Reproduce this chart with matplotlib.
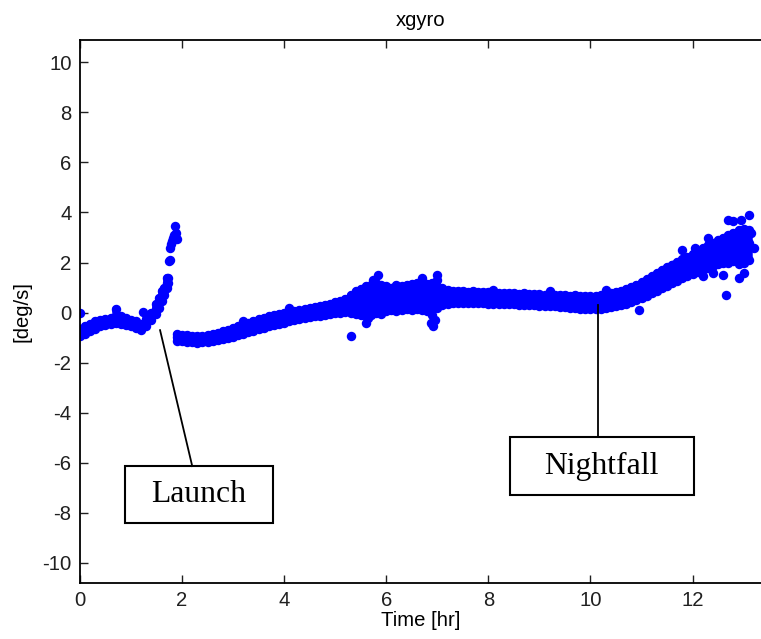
import matplotlib
matplotlib.use("Agg")
import matplotlib.pyplot as plt
from matplotlib.patches import Rectangle

plt.rcParams['font.family'] = ['Liberation Sans', 'DejaVu Sans']
plt.rcParams['axes.unicode_minus'] = False

# launch segment: time [hr], lower / middle / upper edge of the dot band [deg/s]
launch_t = [0.0, 0.1, 0.2, 0.3, 0.4, 0.5, 0.6, 0.7, 0.8, 0.9, 1.0, 1.1, 1.2,
            1.3, 1.4, 1.5, 1.55, 1.6, 1.65, 1.7]
launch_lo = [-0.95, -0.85, -0.75, -0.65, -0.55, -0.5, -0.45, -0.4, -0.45, -0.5,
             -0.55, -0.6, -0.7, -0.55, -0.3, -0.05, 0.2, 0.45, 0.7, 1.0]
launch_mid = [-0.8, -0.7, -0.6, -0.5, -0.42, -0.35, -0.32, -0.25, -0.3, -0.35,
              -0.4, -0.45, -0.6, -0.4, -0.15, 0.15, 0.4, 0.65, 0.85, 1.2]
launch_hi = [-0.65, -0.55, -0.45, -0.35, -0.3, -0.25, -0.2, 0.15, -0.15, -0.2,
             -0.3, -0.35, -0.45, -0.25, 0.0, 0.35, 0.6, 0.85, 1.0, 1.4]

# spike just before launch
spike_t = [0.0, 1.23, 1.72, 1.73, 1.74, 1.77, 1.76, 1.78, 1.8, 1.82, 1.84, 1.86, 1.88, 1.9]
spike_y = [0.0, 0.02, 1.4, 1.2, 2.05, 2.1, 2.6, 2.75, 2.85, 3.0, 3.1, 3.45, 3.2, 2.95]

# flight segment
flight_t = [1.9, 2.0, 2.1, 2.2, 2.3, 2.4, 2.5, 2.6, 2.7, 2.8, 2.9, 3.0, 3.1, 3.2,
            3.3, 3.4, 3.5, 3.6, 3.7, 3.8, 3.9, 4.0, 4.1, 4.2, 4.3, 4.4, 4.5, 4.6,
            4.7, 4.8, 4.9, 5.0, 5.1, 5.2, 5.3, 5.4, 5.5, 5.6, 5.7, 5.8, 5.9, 6.0,
            6.1, 6.2, 6.3, 6.4, 6.5, 6.6, 6.7, 6.8, 6.9, 7.0, 7.1, 7.2, 7.3, 7.4,
            7.5, 7.6, 7.7, 7.8, 7.9, 8.0, 8.1, 8.2, 8.3, 8.4, 8.5, 8.6, 8.7, 8.8,
            8.9, 9.0, 9.1, 9.2, 9.3, 9.4, 9.5, 9.6, 9.7, 9.8, 9.9, 10.0, 10.1,
            10.2, 10.3, 10.4, 10.5, 10.6, 10.7, 10.8, 10.9, 11.0, 11.1, 11.2,
            11.3, 11.4, 11.5, 11.6, 11.7, 11.8, 11.9, 12.0, 12.1, 12.2, 12.3,
            12.4, 12.5, 12.6, 12.7, 12.8, 12.9, 13.0, 13.1]
flight_lo = [-1.12, -1.14, -1.16, -1.18, -1.2, -1.18, -1.16, -1.13, -1.1, -1.06,
             -1.02, -0.96, -0.9, -0.84, -0.78, -0.72, -0.66, -0.6, -0.55, -0.5,
             -0.45, -0.4, -0.35, -0.3, -0.26, -0.22, -0.18, -0.15, -0.12, -0.08,
             -0.05, -0.02, 0.0, 0.02, 0.0, -0.05, -0.1, -0.15, -0.1, 0.0, -0.05,
             0.05, 0.1, 0.05, 0.1, 0.15, 0.1, 0.15, 0.1, 0.05, -0.1, 0.2, 0.3,
             0.35, 0.4, 0.4, 0.4, 0.38, 0.38, 0.38, 0.37, 0.36, 0.36, 0.35, 0.35,
             0.34, 0.34, 0.32, 0.32, 0.31, 0.3, 0.28, 0.28, 0.26, 0.26, 0.24,
             0.22, 0.2, 0.18, 0.16, 0.15, 0.14, 0.15, 0.16, 0.2, 0.22, 0.26, 0.3,
             0.36, 0.42, 0.5, 0.58, 0.68, 0.78, 0.88, 0.98, 1.08, 1.18, 1.28,
             1.38, 1.48, 1.56, 1.64, 1.72, 1.8, 1.88, 1.95, 2.0, 2.0, 2.05, 1.95,
             2.0, 2.1]
flight_mid = [-0.98, -1.0, -1.03, -1.06, -1.08, -1.07, -1.04, -1.0, -0.96, -0.92,
              -0.86, -0.79, -0.72, -0.65, -0.58, -0.52, -0.46, -0.4, -0.34, -0.3,
              -0.25, -0.2, -0.15, -0.1, -0.06, -0.02, 0.02, 0.06, 0.1, 0.14, 0.18,
              0.22, 0.26, 0.3, 0.34, 0.4, 0.45, 0.5, 0.52, 0.55, 0.56, 0.58, 0.6,
              0.6, 0.62, 0.62, 0.64, 0.65, 0.66, 0.66, 0.65, 0.66, 0.65, 0.64,
              0.63, 0.62, 0.62, 0.61, 0.6, 0.6, 0.6, 0.58, 0.58, 0.57, 0.56, 0.56,
              0.55, 0.54, 0.54, 0.52, 0.52, 0.5, 0.5, 0.48, 0.48, 0.47, 0.46,
              0.45, 0.44, 0.43, 0.42, 0.42, 0.42, 0.44, 0.47, 0.5, 0.55, 0.6,
              0.66, 0.74, 0.82, 0.92, 1.02, 1.12, 1.24, 1.34, 1.44, 1.54, 1.64,
              1.74, 1.84, 1.94, 2.04, 2.14, 2.24, 2.34, 2.44, 2.52, 2.6, 2.66,
              2.7, 2.74, 2.8]
flight_hi = [-0.85, -0.88, -0.9, -0.93, -0.95, -0.94, -0.9, -0.86, -0.8, -0.74,
             -0.68, -0.6, -0.52, -0.45, -0.4, -0.32, -0.26, -0.2, -0.15, -0.1,
             -0.06, 0.0, 0.04, 0.08, 0.12, 0.16, 0.2, 0.24, 0.28, 0.32, 0.36,
             0.42, 0.48, 0.55, 0.7, 0.85, 0.95, 1.05, 1.1, 1.2, 1.1, 1.05, 1.0,
             1.1, 1.05, 1.1, 1.15, 1.2, 1.25, 1.15, 1.2, 1.3, 1.0, 0.9, 0.88,
             0.85, 0.85, 0.84, 0.85, 0.82, 0.83, 0.82, 0.8, 0.8, 0.78, 0.8, 0.78,
             0.76, 0.78, 0.74, 0.76, 0.74, 0.72, 0.72, 0.7, 0.72, 0.7, 0.68, 0.7,
             0.68, 0.66, 0.66, 0.66, 0.7, 0.8, 0.8, 0.82, 0.88, 0.94, 1.02, 1.12,
             1.22, 1.34, 1.46, 1.58, 1.7, 1.82, 1.92, 2.02, 2.14, 2.24, 2.34,
             2.46, 2.58, 2.7, 2.8, 2.92, 3.0, 3.1, 3.2, 3.3, 3.35, 3.3]

# scattered outliers
stray_t = [5.3, 5.6, 5.65, 5.84, 5.75, 6.7, 7.0, 6.92, 6.88, 6.95, 11.8, 12.65,
           10.95, 13.1, 12.7, 12.8, 12.95, 12.9, 13.0, 12.4, 12.6, 12.2, 13.15,
           13.2, 12.3, 11.6, 12.05, 10.3, 9.2, 8.1, 3.2, 4.1]
stray_y = [-0.95, -0.4, -0.2, 1.5, 1.3, 1.4, 1.5, -0.55, -0.4, -0.3, 2.5, 0.7,
           0.1, 3.9, 3.7, 3.65, 3.7, 1.4, 1.6, 1.6, 1.5, 1.45, 3.2, 2.6, 3.0,
           1.9, 2.6, 0.9, 0.85, 0.9, -0.35, 0.2]

blue = '#0000ff'
dot = dict(linestyle='none', marker='o', markersize=6.8, markeredgewidth=0,
           color=blue)

fig = plt.figure(figsize=(7.61, 6.39), dpi=100)
ax = fig.add_axes([0.105, 0.088, 0.895, 0.849])

# dense dot band: overlapping dots between lower and upper edge
for tt, lo, hi in ((launch_t, launch_lo, launch_hi), (flight_t, flight_lo, flight_hi)):
    band = ax.vlines(tt, lo, hi, colors=blue, linewidth=5.4)
    band.set_capstyle('round')
for ys in (launch_lo, launch_mid, launch_hi):
    ax.plot(launch_t, ys, **dot)
for ys in (flight_lo, flight_mid, flight_hi):
    ax.plot(flight_t, ys, **dot)
ax.plot(spike_t, spike_y, **dot)
ax.plot(stray_t, stray_y, **dot)

ax.set_xlim(0, 13.34)
ax.set_ylim(-10.79, 10.88)
ax.set_xticks([0, 2, 4, 6, 8, 10, 12])
ax.set_yticks([-10, -8, -6, -4, -2, 0, 2, 4, 6, 8, 10])
ax.tick_params(direction='in', length=6, width=1, labelsize=14.6, pad=6,
               top=True, colors='#202020')
ax.spines['right'].set_visible(False)
for s in ('left', 'top', 'bottom'):
    ax.spines[s].set_linewidth(1.3)

ax.set_title('xgyro', fontsize=14.6, pad=10)
ax.set_xlabel('Time [hr]', fontsize=14.6, labelpad=1)
ax.set_ylabel('[deg/s]', fontsize=14.6, labelpad=8)

# annotations
ax.plot([1.57, 2.2], [-0.7, -6.13], color='black', linewidth=1.3)
ax.add_patch(Rectangle((0.88, -8.40), 2.90, 2.27, fill=False,
                       edgecolor='black', linewidth=1.5))
ax.text(2.33, -7.28, 'Launch', fontsize=22.8, family='Liberation Serif',
        ha='center', va='center')

ax.plot([10.15, 10.15], [0.3, -4.97], color='black', linewidth=1.3)
ax.add_patch(Rectangle((8.43, -7.29), 3.59, 2.32, fill=False,
                       edgecolor='black', linewidth=1.5))
ax.text(10.22, -6.13, 'Nightfall', fontsize=22.8, family='Liberation Serif',
        ha='center', va='center')

fig.savefig('out.png', dpi=100)
